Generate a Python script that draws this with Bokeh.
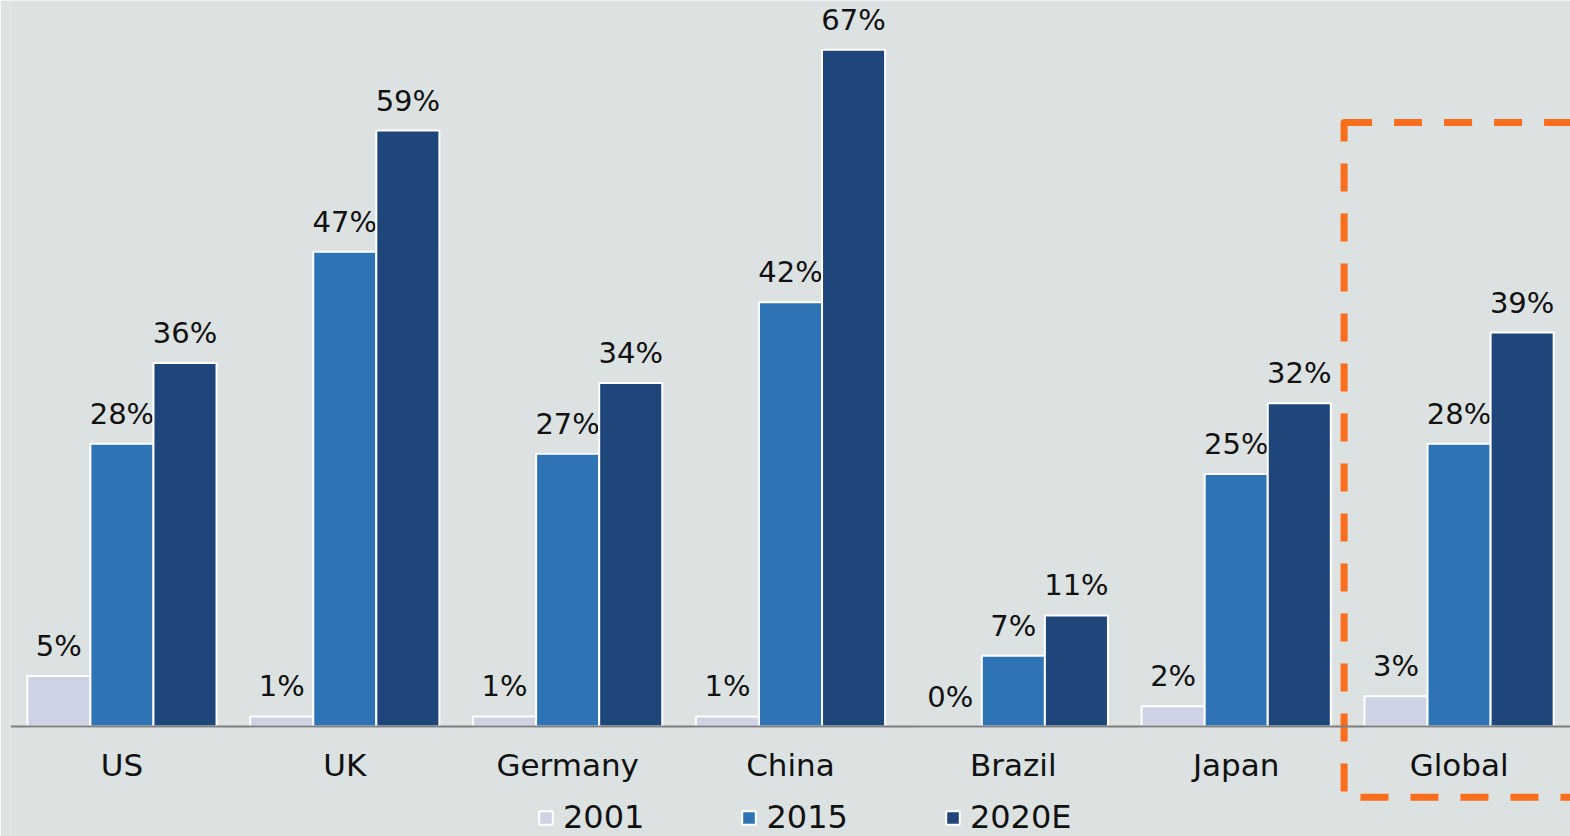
from bokeh.plotting import figure
from bokeh.models import ColumnDataSource, FactorRange, Range1d, Legend, LegendItem
from bokeh.transform import dodge
from bokeh.core.properties import value
from bokeh.embed import file_html
from bokeh.resources import INLINE

categories = ["US", "UK", "Germany", "China", "Brazil", "Japan", "Global"]
series_names = ["2001", "2015", "2020E"]
v2001 = [5, 1, 1, 1, 0, 2, 3]
v2015 = [28, 47, 27, 42, 7, 25, 28]
v2020 = [36, 59, 34, 67, 11, 32, 39]
highlight = ["Global"]
highlight_top = [59.8]
highlight_bottom = [-7.0]

colors = ["#cdd3e4", "#2e74b5", "#1f467a"]
BG = "#dce1e1"
FONT = "DejaVu Sans"

src = ColumnDataSource(dict(
    cat=categories, v2001=v2001, v2015=v2015, v2020=v2020,
    l2001=[f"{v}%" for v in v2001],
    l2015=[f"{v}%" for v in v2015],
    l2020=[f"{v}%" for v in v2020],
))

p = figure(width=1570, height=836, output_backend="svg", toolbar_location=None,
           x_range=FactorRange(*categories, range_padding=0),
           y_range=Range1d(-10.89, 71.88),
           min_border_left=10, min_border_right=0, min_border_top=0, min_border_bottom=0)
p.background_fill_color = BG
p.border_fill_color = BG
p.outline_line_color = None
p.xgrid.visible = False
p.ygrid.visible = False
p.yaxis.visible = False

off = 0.283
bw = 0.283
renderers = []
for name, col, lab, c, dx in zip(series_names, ["v2001", "v2015", "v2020"],
                                 ["l2001", "l2015", "l2020"], colors, [-off, 0, off]):
    r = p.vbar(x=dodge("cat", dx, range=p.x_range), top=col, width=bw, source=src,
               fill_color=c, line_color="white", line_width=2)
    renderers.append((name, r))
    p.text(x=dodge("cat", dx, range=p.x_range), y=col, text=lab, source=src,
           text_align="center", text_baseline="middle", y_offset=-30,
           text_font=value(FONT), text_font_size="29px", text_color="#111111")

# highlight box
hsrc = ColumnDataSource(dict(cat=highlight, top=highlight_top, bottom=highlight_bottom))
p.quad(left=dodge("cat", -0.516, range=p.x_range), right=dodge("cat", 0.65, range=p.x_range),
       top="top", bottom="bottom", source=hsrc, fill_color=None,
       line_color="#f96d1c", line_width=7, line_dash="28 22", line_join="round")

ax = p.xaxis[0]
ax.fixed_location = 0
ax.axis_line_color = "#7f7f7f"
ax.axis_line_width = 2
ax.major_tick_line_color = None
ax.minor_tick_line_color = None
ax.major_label_standoff = 14
ax.major_label_text_font = FONT
ax.major_label_text_font_size = "31px"
ax.major_label_text_color = "#111111"

legend = Legend(items=[LegendItem(label=n, renderers=[r]) for n, r in renderers],
                orientation="horizontal", location=(527, 0),
                background_fill_alpha=0, border_line_color=None,
                glyph_width=17, glyph_height=17, label_standoff=9, spacing=96,
                padding=0, margin=0,
                label_text_font=FONT, label_text_font_size="32px", label_text_color="#111111")
p.add_layout(legend)

open("out.html", "w").write(file_html(p, INLINE))
